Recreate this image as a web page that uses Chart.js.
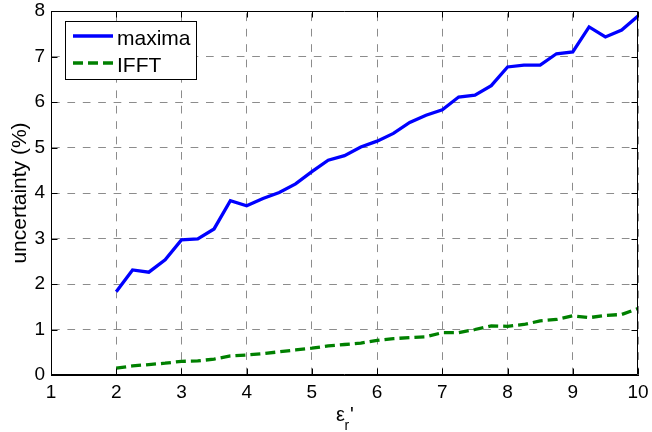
<!DOCTYPE html>
<html>
<head>
<meta charset="utf-8">
<script src="https://cdn.jsdelivr.net/npm/chart.js@4/dist/chart.umd.min.js"></script>
<style>
  html, body { margin: 0; padding: 0; background: #fff; }
  #wrap { width: 652px; height: 432px; }
</style>
</head>
<body>
<div id="wrap"><canvas id="c" width="652" height="432"></canvas></div>
<script>
// Relative permittivity values (x) and uncertainty of each method (%)
const epsR = [2, 2.25, 2.5, 2.75, 3, 3.25, 3.5, 3.75, 4, 4.25, 4.5, 4.75, 5, 5.25, 5.5, 5.75,
              6, 6.25, 6.5, 6.75, 7, 7.25, 7.5, 7.75, 8, 8.25, 8.5, 8.75, 9, 9.25, 9.5, 9.75, 10];
const maxima = [1.83, 2.31, 2.26, 2.53, 2.97, 2.99, 3.21, 3.83, 3.72, 3.88, 4.01, 4.2, 4.47, 4.72, 4.82, 5.01,
                5.14, 5.31, 5.55, 5.71, 5.83, 6.11, 6.15, 6.36, 6.77, 6.81, 6.81, 7.06, 7.1, 7.65, 7.43, 7.58, 7.89];
const ifft = [0.15, 0.2, 0.23, 0.26, 0.3, 0.31, 0.35, 0.42, 0.44, 0.47, 0.51, 0.55, 0.59, 0.64, 0.67, 0.7,
              0.76, 0.8, 0.82, 0.84, 0.93, 0.93, 1.0, 1.08, 1.07, 1.11, 1.19, 1.22, 1.3, 1.26, 1.31, 1.33, 1.46];
const seriesNames = ['maxima', 'IFFT'];
const xTicks = [1, 2, 3, 4, 5, 6, 7, 8, 9, 10];
const yTicks = [0, 1, 2, 3, 4, 5, 6, 7, 8];

const FONT = '"Liberation Sans", Arial, Helvetica, sans-serif';

// Box, inward tick marks, axis titles and the framed legend
const framePlugin = {
  id: 'frame',
  afterDraw(chart) {
    const { ctx, chartArea: a, scales: { x, y } } = chart;
    ctx.save();
    ctx.strokeStyle = '#000';
    ctx.lineWidth = 1;
    const L = Math.round(a.left) + 0.5, R = Math.round(a.right) - 0.5;
    const T = Math.round(a.top) + 0.5, B = Math.round(a.bottom) - 0.5;
    ctx.beginPath();
    ctx.rect(L, T, R - L, B - T);
    ctx.stroke();

    const tl = 6;
    ctx.beginPath();
    xTicks.forEach(v => {
      const px = Math.round(x.getPixelForValue(v)) + 0.5;
      ctx.moveTo(px, B); ctx.lineTo(px, B - tl);
      ctx.moveTo(px, T); ctx.lineTo(px, T + tl);
    });
    yTicks.forEach(v => {
      const py = Math.round(y.getPixelForValue(v)) + 0.5;
      ctx.moveTo(L, py); ctx.lineTo(L + tl, py);
      ctx.moveTo(R, py); ctx.lineTo(R - tl, py);
    });
    ctx.stroke();

    // y-axis title
    ctx.fillStyle = '#000';
    ctx.save();
    ctx.translate(26, (a.top + a.bottom) / 2);
    ctx.rotate(-Math.PI / 2);
    ctx.font = '21px ' + FONT;
    ctx.textAlign = 'center';
    ctx.textBaseline = 'alphabetic';
    ctx.fillText('uncertainty (%)', 0, 0);
    ctx.restore();

    // x-axis title: epsilon, subscript r, prime
    ctx.textAlign = 'left';
    ctx.textBaseline = 'alphabetic';
    const cx = (a.left + a.right) / 2;
    ctx.font = '20px ' + FONT;
    const wEps = ctx.measureText('\u03b5').width;
    const x0 = cx - 8.5;
    ctx.fillText('\u03b5', x0, 421);
    ctx.font = '14px ' + FONT;
    const wR = ctx.measureText('r').width;
    ctx.fillText('r', x0 + wEps - 0.5, 430);
    ctx.font = '20px ' + FONT;
    ctx.fillText('\'', x0 + wEps + wR + 0.5, 421);

    // legend
    const lx = 65.5, ly = 21.5, lw = 131, lh = 58;
    ctx.fillStyle = '#fff';
    ctx.fillRect(lx, ly, lw, lh);
    ctx.strokeStyle = '#000';
    ctx.lineWidth = 1;
    ctx.strokeRect(lx, ly, lw, lh);
    chart.data.datasets.forEach((ds, i) => {
      const yy = 36 + i * 27;
      ctx.save();
      ctx.strokeStyle = ds.borderColor;
      ctx.lineWidth = ds.borderWidth;
      ctx.setLineDash(ds.borderDash || []);
      ctx.beginPath();
      ctx.moveTo(73, yy);
      ctx.lineTo(113, yy);
      ctx.stroke();
      ctx.restore();
      ctx.fillStyle = '#000';
      ctx.font = '21px ' + FONT;
      ctx.fillText(ds.label, 117, yy + 8.5);
    });
    ctx.restore();
  }
};

const toPoints = vals => epsR.map((e, i) => ({ x: e, y: vals[i] }));

new Chart(document.getElementById('c'), {
  type: 'line',
  data: {
    datasets: [
      {
        label: seriesNames[0],
        data: toPoints(maxima),
        borderColor: '#0000ff',
        borderWidth: 3.3,
        pointRadius: 0,
        tension: 0,
        fill: false
      },
      {
        label: seriesNames[1],
        data: toPoints(ifft),
        borderColor: '#008000',
        borderWidth: 3.3,
        borderDash: [10, 5],
        pointRadius: 0,
        tension: 0,
        fill: false
      }
    ]
  },
  options: {
    responsive: false,
    animation: false,
    devicePixelRatio: 1,
    layout: { padding: { left: 0, right: 14, top: 11, bottom: 0 } },
    plugins: { legend: { display: false }, tooltip: { enabled: false } },
    scales: {
      x: {
        type: 'linear',
        min: 1, max: 10,
        afterBuildTicks: s => { s.ticks = xTicks.map(v => ({ value: v })); },
        afterFit: s => { s.height = 57; s.paddingLeft = 0; s.paddingRight = 0; },
        ticks: { color: '#000', font: { family: FONT, size: 19, lineHeight: 1 }, padding: 8, maxRotation: 0 },
        grid: { color: '#8c8c8c', lineWidth: 1, drawTicks: false },
        border: { display: true, color: '#000', width: 1, dash: [7.7, 7.7], dashOffset: 13 }
      },
      y: {
        type: 'linear',
        min: 0, max: 8,
        afterBuildTicks: s => { s.ticks = yTicks.map(v => ({ value: v })); },
        afterFit: s => { s.width = 51; s.paddingTop = 0; s.paddingBottom = 0; },
        ticks: { color: '#000', font: { family: FONT, size: 19, lineHeight: 1 }, padding: 6 },
        grid: { color: '#8c8c8c', lineWidth: 1, drawTicks: false },
        border: { display: true, color: '#000', width: 1, dash: [7.7, 7.7] }
      }
    }
  },
  plugins: [framePlugin]
});
</script>
</body>
</html>
